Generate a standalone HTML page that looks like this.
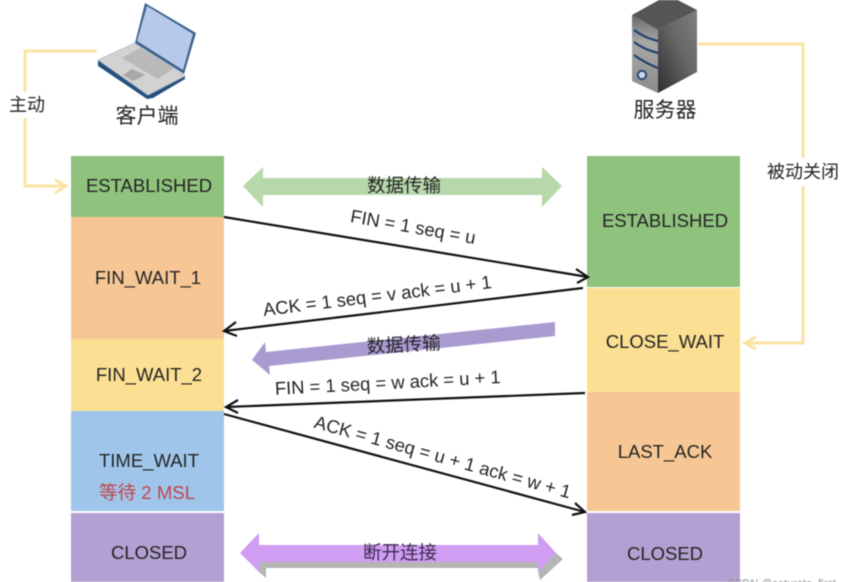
<!DOCTYPE html>
<html><head><meta charset="utf-8"><style>
html,body{margin:0;padding:0;background:#fff;width:844px;height:582px;overflow:hidden}
svg{display:block;filter:blur(.55px)}
text{font-family:"Liberation Sans","Noto Sans CJK SC",sans-serif;fill:#242424}
.c{text-anchor:middle}
</style></head><body>
<svg width="844" height="582" viewBox="0 0 844 582" xmlns="http://www.w3.org/2000/svg">
<defs>
<linearGradient id="sf" x1="0" x2="0" y1="0" y2="1"><stop offset="0" stop-color="#6a6a6a"/><stop offset=".35" stop-color="#a8a8a8"/><stop offset="1" stop-color="#8c8c8c"/></linearGradient>
<linearGradient id="sr" x1="0" x2="1" y1="1" y2="0"><stop offset="0" stop-color="#2e2e2e"/><stop offset=".55" stop-color="#666"/><stop offset="1" stop-color="#808080"/></linearGradient>
</defs>
<rect width="844" height="582" fill="#fff"/>

<!-- left column -->
<rect x="71" y="156" width="153" height="61" fill="#8fc27c"/>
<rect x="71" y="217" width="153" height="122" fill="#f6c795"/>
<rect x="71" y="339" width="153" height="72" fill="#fbdf92"/>
<rect x="71" y="411" width="153" height="100" fill="#9fc6ea"/>
<rect x="71" y="513" width="153" height="69" fill="#b3a0d2"/>
<!-- right column -->
<rect x="587" y="156" width="153" height="131" fill="#8fc27c"/>
<rect x="587" y="288" width="153" height="104" fill="#fbdf92"/>
<rect x="587" y="392" width="153" height="119" fill="#f6c795"/>
<rect x="587" y="513" width="153" height="69" fill="#b3a0d2"/>

<!-- yellow connectors -->
<g fill="none" stroke="#fbe3a4" stroke-width="3">
<path d="M97 51H25V186H65"/>
<path d="M55 180L66 186L55 193"/>
<path d="M698 44H803V343H745"/>
<path d="M756 337L745 343L756 349"/>
</g>
<rect x="6" y="92" width="42" height="26" fill="#fff"/>
<rect x="765" y="158" width="76" height="28" fill="#fff"/>
<text x="27" y="111" class="c" font-size="18">主动</text>
<text x="803" y="178" class="c" font-size="18">被动关闭</text>

<!-- laptop -->
<path d="M98 60L98 66L147 99L153 98L185 79L185 75L147 93Z" fill="#23507f"/>
<path d="M98 60L135 43L185 76L148 95Z" fill="#d2d2d2" stroke="#b8bcc2" stroke-width=".8"/>
<path d="M122 58L140 48L174 68L158 79Z" fill="#b9b9b9"/>
<path d="M123 75L132 69L145 75L133 81Z" fill="#a8a8a8"/>
<path d="M135 43L145 3L196 33L184 74Z" fill="#3d648f"/>
<path d="M137 41L147 6L193 34L183 70Z" fill="#b7c9ea"/>

<!-- server -->
<path d="M658 30L697 10L697 72L658 93Z" fill="url(#sr)"/>
<path d="M632 15L658 30L658 93L632 81Z" fill="url(#sf)"/>
<path d="M632 15L668 -5L697 10L658 30Z" fill="#565656"/>
<g fill="none" stroke="#1f4070" stroke-width="2.2">
<path d="M634 30Q645 38 658 41"/>
<path d="M634 42Q645 50 658 53"/>
<path d="M634 55Q645 63 658 68"/>
</g>
<circle cx="642" cy="75" r="4.2" fill="#cfd8e6" stroke="#2c4a78" stroke-width="2"/>

<text x="147" y="123" class="c" font-size="21">客户端</text>
<text x="665" y="117" class="c" font-size="21">服务器</text>

<!-- data arrow green -->
<polygon points="243,186 263,167 263,178 542,178 542,167 562,186 542,207 542,195 263,195 263,207" fill="#b7d8aa"/>
<text x="404" y="192" class="c" font-size="18.5">数据传输</text>

<!-- purple arrow -->
<polygon points="555,322 555,336 269,366 270,375 252,360 265,342 266,352" fill="#a99bd0"/>
<text transform="translate(404 351) rotate(-3)" class="c" font-size="18.5">数据传输</text>

<!-- bottom arrow -->
<polygon points="259,562 538,562 538,568 266,568 266,578 259,572" fill="#b5b5b5"/>
<polygon points="556,553 563,559 540,580 538,572" fill="#b5b5b5"/>
<polygon points="240,553 259,533 259,545 538,545 538,533 556,553 538,572 538,562 259,562 259,572" fill="#cf9df2"/>
<text x="400" y="559" class="c" font-size="18.5" style="fill:#3d2a52">断开连接</text>

<!-- black lines -->
<g fill="none" stroke="#111" stroke-width="2.2">
<path d="M224 217L588 277"/>
<path d="M576 269L588 277L577 283"/>
<path d="M583 288L224 331"/>
<path d="M236 322L224 331L237 336"/>
<path d="M585 393L226 407"/>
<path d="M238 400L226 407L238 413"/>
<path d="M224 414L585 512"/>
<path d="M575 503L585 512L572 515"/>
</g>

<!-- message labels -->
<text transform="translate(412 233) rotate(10)" class="c" font-size="18.4">FIN = 1 seq = u</text>
<text transform="translate(378 302) rotate(-7)" class="c" font-size="18.4">ACK = 1 seq = v ack = u + 1</text>
<text transform="translate(388 389) rotate(-3)" class="c" font-size="18.4">FIN = 1 seq = w ack = u + 1</text>
<text transform="translate(441 463) rotate(15.5)" class="c" font-size="18.4">ACK = 1 seq = u + 1 ack = w + 1</text>

<!-- state labels -->
<g font-size="18.5">
<text x="149" y="192" class="c">ESTABLISHED</text>
<text x="148" y="284" class="c">FIN_WAIT_1</text>
<text x="149" y="381" class="c">FIN_WAIT_2</text>
<text x="149" y="467" class="c">TIME_WAIT</text>
<text x="149" y="559" class="c">CLOSED</text>
<text x="665" y="227" class="c">ESTABLISHED</text>
<text x="665" y="348" class="c">CLOSE_WAIT</text>
<text x="665" y="458" class="c">LAST_ACK</text>
<text x="665" y="560" class="c">CLOSED</text>
</g>
<text x="147" y="499" class="c" font-size="18.6" style="fill:#c2444c">等待 2 MSL</text>
<text x="727" y="587" font-size="11" style="fill:#888">CSDN @saturate_first</text>
</svg>
</body></html>
